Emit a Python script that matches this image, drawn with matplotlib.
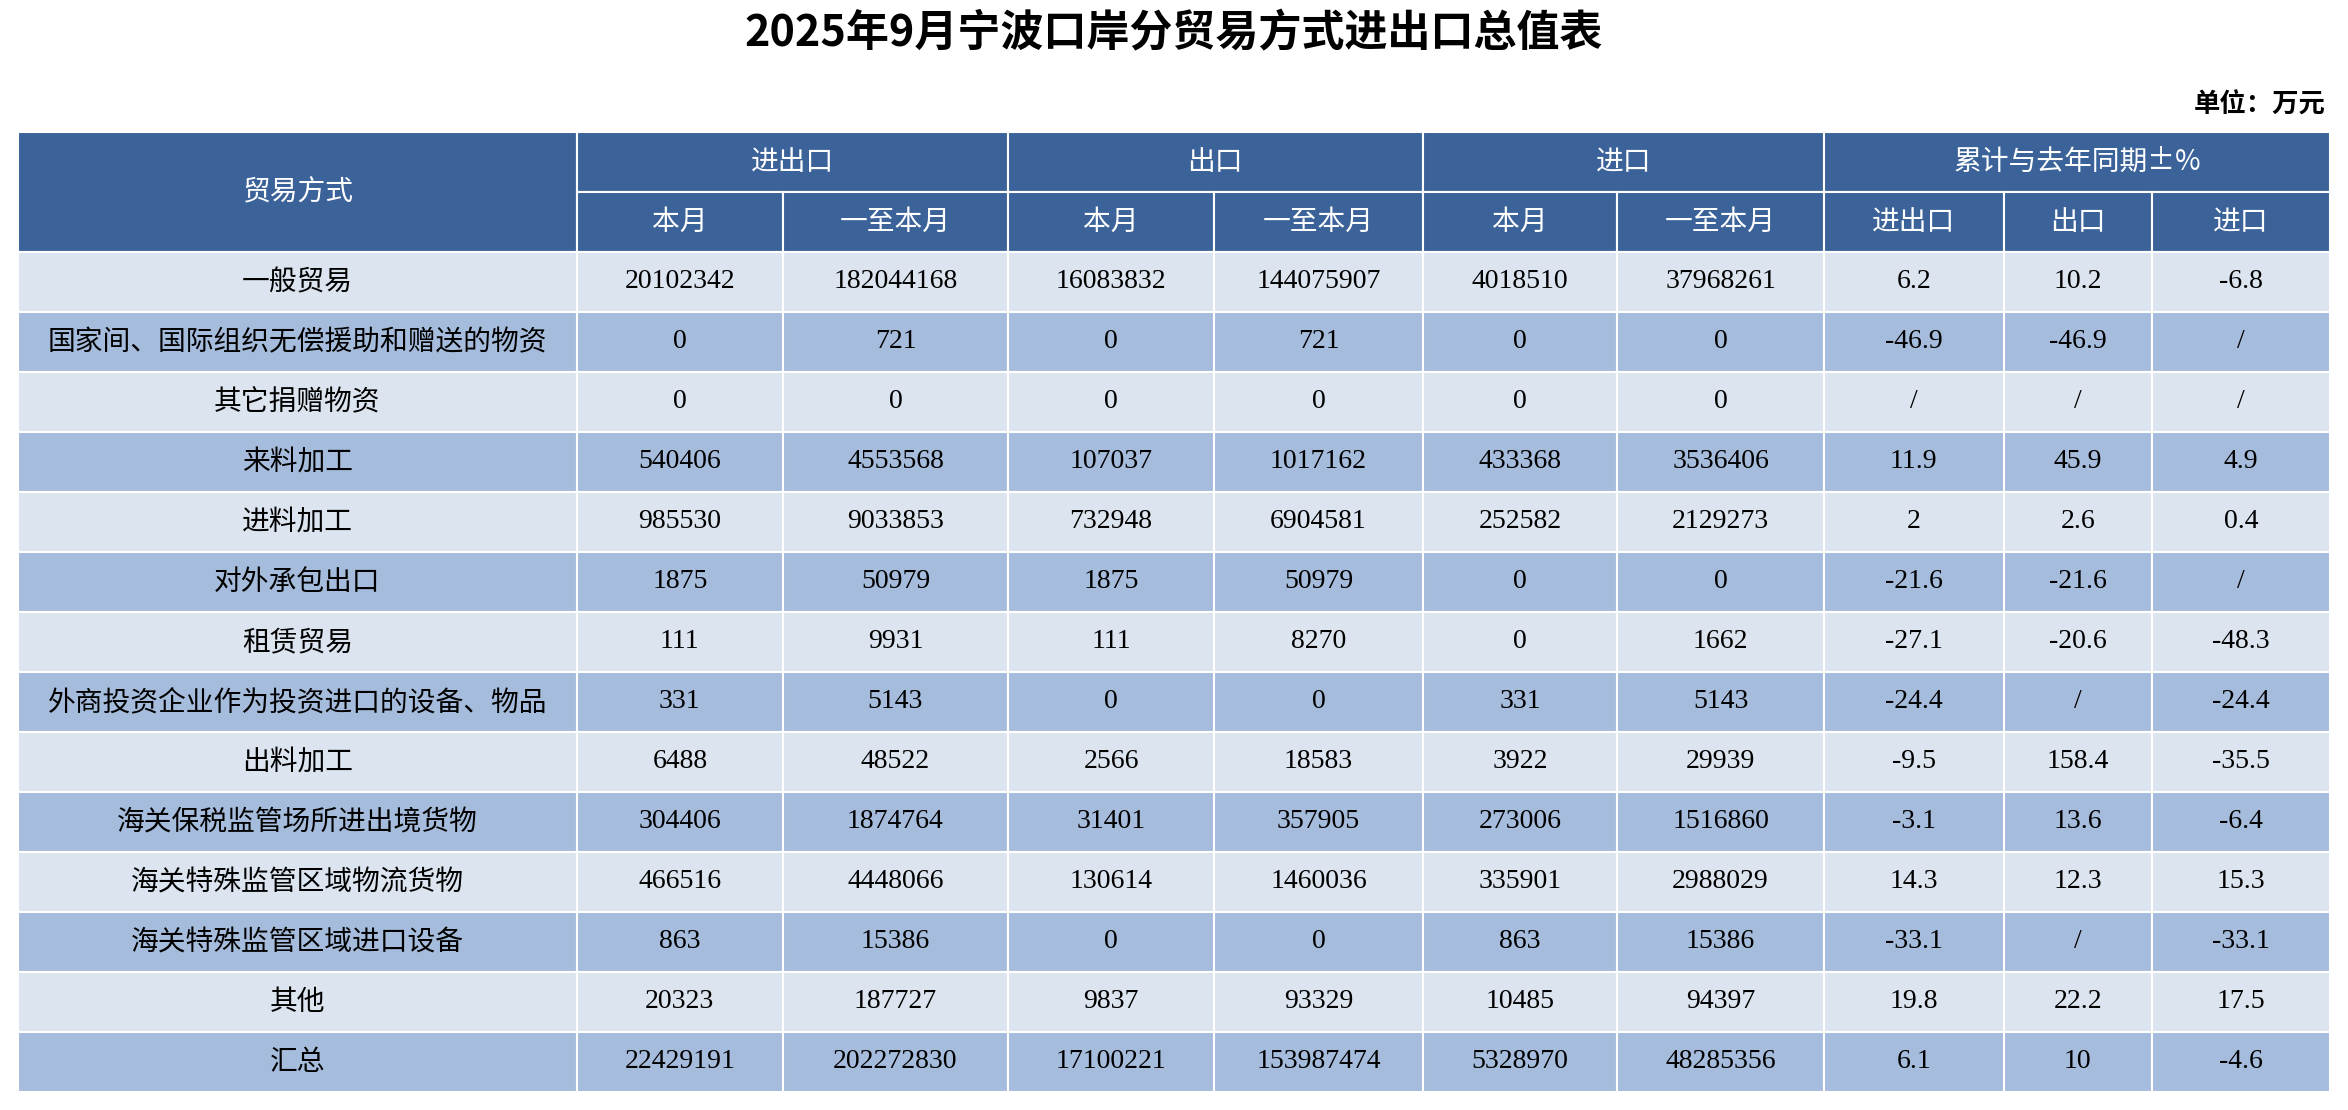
import matplotlib
matplotlib.use("Agg")
import matplotlib.pyplot as plt
from matplotlib.patches import Rectangle

plt.rcParams['font.family'] = ['Noto Sans CJK SC', 'DejaVu Sans']

title = "2025年9月宁波口岸分贸易方式进出口总值表"
unit = "单位：万元"
group_headers = ["进出口", "出口", "进口", "累计与去年同期±%"]
sub_headers = ["本月", "一至本月", "本月", "一至本月", "本月", "一至本月", "进出口", "出口", "进口"]
categories = ["一般贸易", "国家间、国际组织无偿援助和赠送的物资", "其它捐赠物资", "来料加工", "进料加工",
              "对外承包出口", "租赁贸易", "外商投资企业作为投资进口的设备、物品", "出料加工",
              "海关保税监管场所进出境货物", "海关特殊监管区域物流货物", "海关特殊监管区域进口设备", "其他", "汇总"]
ie_month = ["20102342", "0", "0", "540406", "985530", "1875", "111", "331", "6488", "304406", "466516", "863", "20323", "22429191"]
ie_ytd = ["182044168", "721", "0", "4553568", "9033853", "50979", "9931", "5143", "48522", "1874764", "4448066", "15386", "187727", "202272830"]
ex_month = ["16083832", "0", "0", "107037", "732948", "1875", "111", "0", "2566", "31401", "130614", "0", "9837", "17100221"]
ex_ytd = ["144075907", "721", "0", "1017162", "6904581", "50979", "8270", "0", "18583", "357905", "1460036", "0", "93329", "153987474"]
im_month = ["4018510", "0", "0", "433368", "252582", "0", "0", "331", "3922", "273006", "335901", "863", "10485", "5328970"]
im_ytd = ["37968261", "0", "0", "3536406", "2129273", "0", "1662", "5143", "29939", "1516860", "2988029", "15386", "94397", "48285356"]
g_ie = ["6.2", "-46.9", "/", "11.9", "2", "-21.6", "-27.1", "-24.4", "-9.5", "-3.1", "14.3", "-33.1", "19.8", "6.1"]
g_ex = ["10.2", "-46.9", "/", "45.9", "2.6", "-21.6", "-20.6", "/", "158.4", "13.6", "12.3", "/", "22.2", "10"]
g_im = ["-6.8", "/", "/", "4.9", "0.4", "/", "-48.3", "-24.4", "-35.5", "-6.4", "15.3", "-33.1", "17.5", "-4.6"]

W, H = 1568, 740
fig = plt.figure(figsize=(23.48, 11.1), dpi=100)
ax = fig.add_axes([0, 0, 1, 1])
ax.set_xlim(0, W); ax.set_ylim(H, 0); ax.axis('off')

cols = [12, 385, 523, 673, 811, 950, 1080, 1218, 1338, 1437, 1556]
top, hh, rh = 88, 40, 40
dark, light, mid = "#3b6399", "#dce4ef", "#a6bcdc"
fs = 20

ax.text(W/2, 22, title, ha='center', va='center', fontsize=31, fontweight='bold')
ax.text(1553, 70, unit, ha='right', va='center', fontsize=19, fontweight='bold')

def cell(x0, x1, y0, y1, color, txt, tc, num=False):
    ax.add_patch(Rectangle((x0, y0), x1-x0, y1-y0, facecolor=color, edgecolor='white', lw=1.5))
    ax.text((x0+x1)/2, (y0+y1)/2, txt, ha='center', va='center', fontsize=fs, color=tc,
            family=['Liberation Serif', 'Noto Sans CJK SC'] if num else None)

cell(cols[0], cols[1], top, top+2*hh, dark, "贸易方式", 'white')
for i, g in enumerate(group_headers):
    a, b = (1+2*i, 3+2*i) if i < 3 else (7, 10)
    cell(cols[a], cols[b], top, top+hh, dark, g, 'white')
for j, s in enumerate(sub_headers):
    cell(cols[j+1], cols[j+2], top+hh, top+2*hh, dark, s, 'white')

series = [ie_month, ie_ytd, ex_month, ex_ytd, im_month, im_ytd, g_ie, g_ex, g_im]
y = top + 2*hh
for r, cat in enumerate(categories):
    c = light if r % 2 == 0 else mid
    cell(cols[0], cols[1], y, y+rh, c, cat, 'black')
    for j, s in enumerate(series):
        cell(cols[j+1], cols[j+2], y, y+rh, c, s[r], 'black', num=True)
    y += rh

fig.savefig("out.png", dpi=100)
